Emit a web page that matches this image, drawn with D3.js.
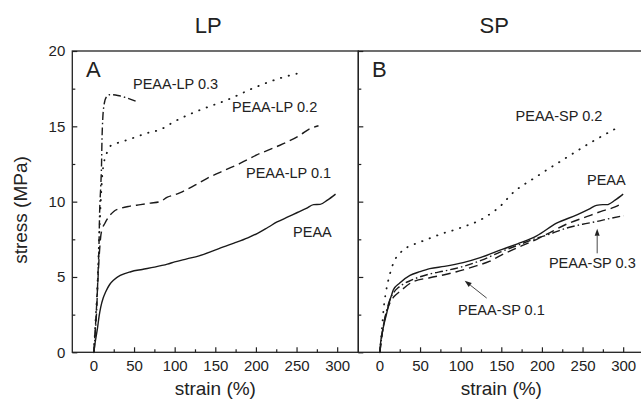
<!DOCTYPE html>
<html>
<head>
<meta charset="utf-8">
<script src="https://cdn.jsdelivr.net/npm/d3@7"></script>
<style>
body { margin: 0; background: #fff; }
text { font-family: "Liberation Sans", Arial, sans-serif; fill: #222; }
</style>
</head>
<body>
<script>
// stress-strain curves, [strain %, stress MPa]
var lp_peaa = [[0.5,0],[2,0.6],[5,1.6],[7,2.4],[9,3.0],[12,3.6],[15,4.0],[20,4.5],[25,4.8],[33,5.1],[46,5.35],[60,5.5],[75,5.65],[91,5.85],[100,6.0],[115,6.2],[130,6.4],[148,6.75],[160,7.0],[173,7.25],[190,7.6],[202,7.9],[215,8.3],[226,8.65],[240,9.0],[251,9.28],[262,9.55],[271,9.8],[279,9.82],[288,10.1],[298,10.5]];
var lp_01 = [[0.5,0],[3,2.2],[5,4.2],[7,6.3],[9,7.7],[11,8.2],[14,8.55],[19,9.0],[25,9.35],[33,9.55],[45,9.7],[58,9.8],[70,9.9],[82,10.0],[91,10.3],[100,10.45],[107,10.6],[125,11.1],[140,11.55],[160,12.05],[181,12.55],[201,13.1],[226,13.66],[240,14.0],[255,14.44],[265,14.8],[277,15.04]];
var lp_02 = [[0.5,0],[3,2.5],[5,4.5],[7,7.5],[9,10],[11,11.8],[13,12.6],[17,13.3],[21,13.7],[30,13.9],[42,14.1],[66,14.55],[83,14.8],[99,15.3],[132,16.1],[165,16.76],[197,17.54],[230,18.2],[257,18.58]];
var lp_03 = [[0.8,0],[2.5,1.5],[4,2.8],[5.5,5],[7,7.5],[7.5,9],[9,11],[10,12.5],[10.5,14],[11.5,15.5],[13,16.4],[16,16.95],[20,17.1],[30,17.05],[40,16.9],[55,16.6]];

var sp_peaa = [[0.5,0],[1,0.37],[5,1.7],[9,2.6],[12,3.3],[15,3.8],[17,4.14],[25,4.6],[37.6,5.1],[50,5.35],[62,5.55],[80,5.7],[103,5.95],[125,6.3],[152,6.85],[170,7.2],[193.6,7.73],[218,8.57],[243,9.12],[258,9.5],[267,9.75],[275,9.8],[280,9.8],[290,10.1],[300,10.5]];
var sp_01 = [[0.5,0],[5,1.8],[9,2.7],[13,3.3],[18,3.7],[25.5,4.05],[40,4.65],[62,4.95],[80,5.15],[95,5.35],[120,5.75],[136,6.05],[150,6.45],[170,6.95],[193.6,7.5],[210,7.95],[230,8.5],[255,9.0],[275.5,9.4],[290,9.65],[300,9.94]];
var sp_02 = [[0.5,0],[3,1.5],[5,2.8],[8,4.0],[11,4.8],[14,5.4],[17,5.9],[25.2,6.57],[35,7.0],[45.7,7.23],[62,7.57],[78.4,7.9],[91,8.1],[99,8.25],[128,8.9],[152.5,9.9],[160.8,10.4],[193.6,11.67],[226,12.78],[259,13.89],[296,15.0]];
var sp_03 = [[0.5,0],[5,1.8],[9,2.8],[13,3.5],[18,4.0],[23.4,4.3],[40,4.8],[62,5.2],[80,5.4],[103,5.7],[125,6.1],[148.5,6.65],[170,7.1],[193.6,7.57],[210,7.85],[230,8.24],[250,8.5],[267,8.68],[285,8.9],[300,9.06]];

var x_ticks = [0, 50, 100, 150, 200, 250, 300];
var x_minor = [25, 75, 125, 175, 225, 275];
var y_ticks = [0, 5, 10, 15, 20];
var y_minor = [2.5, 7.5, 12.5, 17.5];
var panel_titles = ["LP", "SP"];
var panel_letters = ["A", "B"];

///////////////////////////
// plot parameter
var svg = d3.select("body").append("svg")
	.attr("width", 641)
	.attr("height", 405);

var top_y = 51, bottom_y = 352.3;
var panel_w = 286;
var panel_left = [72.3, 358.3];

var y = d3.scaleLinear().domain([0, 20]).range([bottom_y, top_y]);

var styles = {
	solid:   {dash: null, width: 1.4, cap: "butt"},
	dashed:  {dash: "9,5", width: 1.4, cap: "butt"},
	dotted:  {dash: "0.4,7.6", width: 1.8, cap: "round"},
	dashdot: {dash: "8,3,1.5,3", width: 1.4, cap: "butt"}
};

function drawPanel(i, series, labels, arrows)
{
	var g = svg.append("g").attr("transform", "translate(" + panel_left[i] + ",0)");
	var x = d3.scaleLinear().domain([-26, 326]).range([0, panel_w]);

	var line = d3.line()
		.curve(d3.curveMonotoneX)
		.x(function(d) { return x(d[0]); })
		.y(function(d) { return y(d[1]); });

	// curves
	series.forEach(function(s) {
		var st = styles[s.style];
		g.append("path")
			.attr("d", line(s.data))
			.attr("fill", "none")
			.attr("stroke", "#1a1a1a")
			.attr("stroke-width", st.width)
			.attr("stroke-linecap", st.cap)
			.attr("stroke-dasharray", st.dash);
	});

	// x axis, ticks inside
	g.append("g")
		.attr("transform", "translate(0," + bottom_y + ")")
		.call(d3.axisBottom(x).tickValues(x_ticks).tickSize(-5).tickPadding(8.5).tickFormat(d3.format("d")))
		.call(function(a) {
			a.select(".domain").remove();
			a.selectAll("line").attr("stroke", "#222").attr("stroke-width", 1.2);
			a.selectAll("text").attr("font-size", 15).attr("fill", "#222").attr("font-family", "Liberation Sans, Arial, sans-serif");
		});
	g.append("g")
		.attr("transform", "translate(0," + bottom_y + ")")
		.call(d3.axisBottom(x).tickValues(x_minor).tickSize(-3).tickFormat(""))
		.call(function(a) {
			a.select(".domain").remove();
			a.selectAll("line").attr("stroke", "#222").attr("stroke-width", 1.2);
		});

	// y axis, ticks inside
	var ya = g.append("g")
		.call(d3.axisLeft(y).tickValues(y_ticks).tickSize(-5).tickPadding(7))
		.call(function(a) {
			a.select(".domain").remove();
			a.selectAll("line").attr("stroke", "#222").attr("stroke-width", 1.2);
			a.selectAll("text").attr("font-size", 15).attr("fill", "#222").attr("font-family", "Liberation Sans, Arial, sans-serif");
		});
	if (i == 1) ya.selectAll("text").remove();
	g.append("g")
		.call(d3.axisLeft(y).tickValues(y_minor).tickSize(-3).tickFormat(""))
		.call(function(a) {
			a.select(".domain").remove();
			a.selectAll("line").attr("stroke", "#222").attr("stroke-width", 1.2);
		});

	// frame
	g.append("rect")
		.attr("x", 0).attr("y", top_y)
		.attr("width", panel_w).attr("height", bottom_y - top_y)
		.attr("fill", "none")
		.attr("stroke", "#222")
		.attr("stroke-width", 1.3);

	// titles
	g.append("text")
		.attr("x", x(150) - 7)
		.attr("y", 33)
		.attr("text-anchor", "middle")
		.attr("font-size", 22)
		.text(panel_titles[i]);
	g.append("text")
		.attr("x", x(150))
		.attr("y", 395)
		.attr("text-anchor", "middle")
		.attr("font-size", 19)
		.text("strain (%)");
	g.append("text")
		.attr("x", x(-9))
		.attr("y", y(18.3))
		.attr("font-size", 22)
		.text(panel_letters[i]);

	// series labels
	labels.forEach(function(l) {
		g.append("text")
			.attr("x", x(l.x))
			.attr("y", y(l.y))
			.attr("font-size", 14.5)
			.text(l.text);
	});

	// arrows
	arrows.forEach(function(a) {
		var x1 = x(a.from[0]), y1 = y(a.from[1]);
		var x2 = x(a.to[0]), y2 = y(a.to[1]);
		var ang = Math.atan2(y2 - y1, x2 - x1);
		var len = 7, wid = 2.5;
		var bx = x2 - len * Math.cos(ang), by = y2 - len * Math.sin(ang);
		g.append("line")
			.attr("x1", x1).attr("y1", y1)
			.attr("x2", bx).attr("y2", by)
			.attr("stroke", "#333")
			.attr("stroke-width", 0.9);
		g.append("path")
			.attr("d", "M" + x2 + "," + y2 +
				"L" + (bx + wid * Math.sin(ang)) + "," + (by - wid * Math.cos(ang)) +
				"L" + (bx - wid * Math.sin(ang)) + "," + (by + wid * Math.cos(ang)) + "Z")
			.attr("fill", "#222");
	});
}

drawPanel(0,
	[{data: lp_peaa, style: "solid"}, {data: lp_01, style: "dashed"},
	 {data: lp_02, style: "dotted"}, {data: lp_03, style: "dashdot"}],
	[{text: "PEAA-LP 0.3", x: 48.7, y: 17.48},
	 {text: "PEAA-LP 0.2", x: 170.6, y: 15.95},
	 {text: "PEAA-LP 0.1", x: 187.8, y: 11.57},
	 {text: "PEAA", x: 245.7, y: 7.65}],
	[]);

drawPanel(1,
	[{data: sp_peaa, style: "solid"}, {data: sp_01, style: "dashed"},
	 {data: sp_02, style: "dotted"}, {data: sp_03, style: "dashdot"}],
	[{text: "PEAA-SP 0.2", x: 167.6, y: 15.33},
	 {text: "PEAA", x: 255.5, y: 11.1},
	 {text: "PEAA-SP 0.1", x: 96.7, y: 2.48},
	 {text: "PEAA-SP 0.3", x: 208.6, y: 5.6}],
	[{from: [132, 3.6], to: [105, 4.75]},
	 {from: [268, 6.57], to: [268, 8.2]}]);

// y axis title
svg.append("text")
	.attr("transform", "translate(27," + 210 + ") rotate(-90)")
	.attr("text-anchor", "middle")
	.attr("font-size", 19)
	.text("stress (MPa)");
</script>
</body>
</html>
